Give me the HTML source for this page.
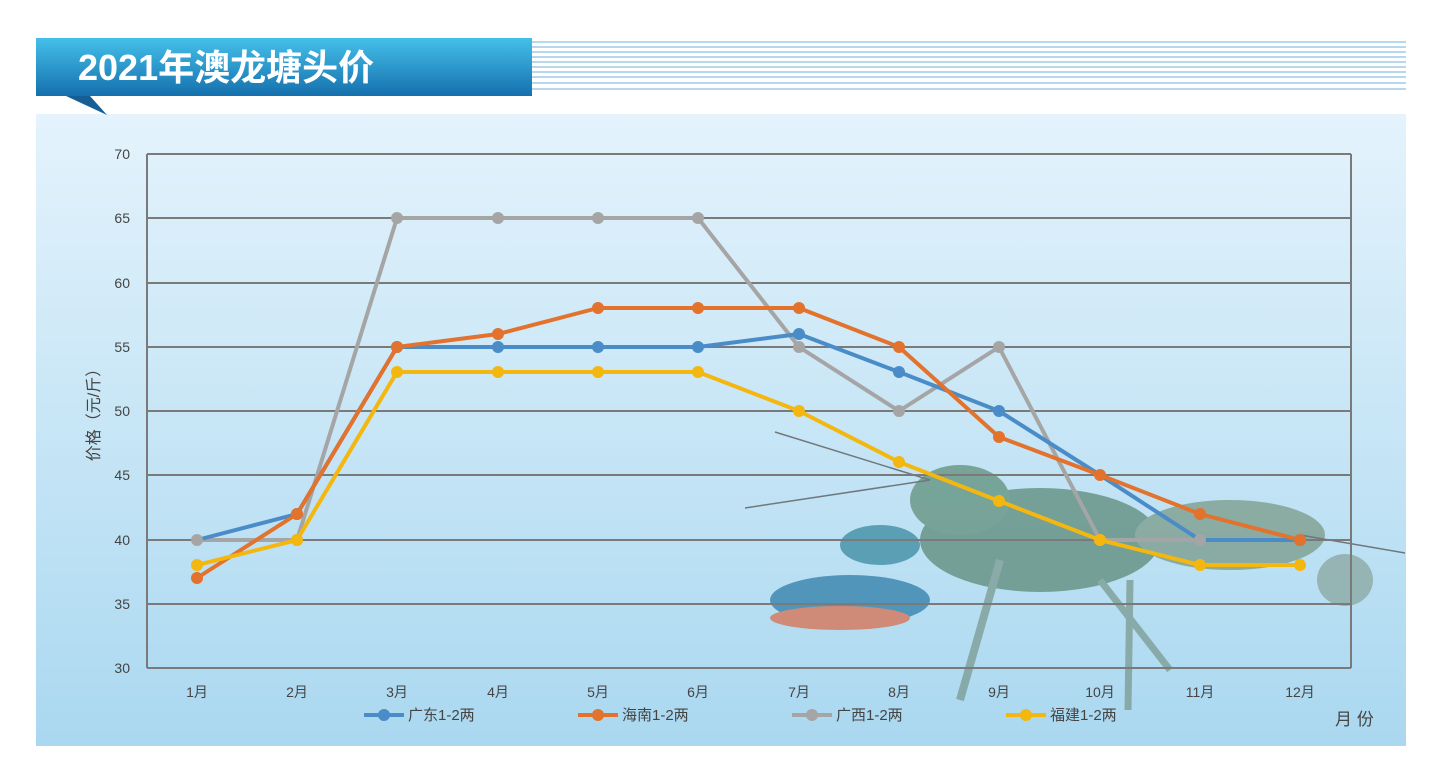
<!DOCTYPE html><html><head><meta charset="utf-8"><style>
body{margin:0;width:1442px;height:781px;background:#fff;overflow:hidden;font-family:"Liberation Sans","Noto Sans CJK SC",sans-serif}
</style></head><body>
<svg width="1442" height="781" xmlns="http://www.w3.org/2000/svg" style="position:absolute;left:0;top:0">
<defs>
<linearGradient id="bg" x1="0" y1="0" x2="0" y2="1"><stop offset="0" stop-color="#e4f3fc"/><stop offset="1" stop-color="#aad8f0"/></linearGradient>
<linearGradient id="hd" x1="0" y1="0" x2="0" y2="1"><stop offset="0" stop-color="#44c0ea"/><stop offset="1" stop-color="#1570ad"/></linearGradient>
</defs>
<rect x="36" y="114" width="1370" height="632" fill="url(#bg)"/>
<g stroke="#8cc0e0" stroke-width="1.3">
<line x1="532" y1="42" x2="1406" y2="42"/><line x1="532" y1="47" x2="1406" y2="47"/><line x1="532" y1="52" x2="1406" y2="52"/><line x1="532" y1="57" x2="1406" y2="57"/><line x1="532" y1="62" x2="1406" y2="62"/><line x1="532" y1="67" x2="1406" y2="67"/><line x1="532" y1="72" x2="1406" y2="72"/><line x1="532" y1="77" x2="1406" y2="77"/><line x1="532" y1="83" x2="1406" y2="83"/><line x1="532" y1="89" x2="1406" y2="89"/>
</g>
<rect x="36" y="38" width="496" height="58" fill="url(#hd)"/>
<polygon points="66,96 90,96 107,115" fill="#155f95"/>
<text x="78" y="80" font-size="36" font-weight="bold" fill="#fff">2021年澳龙塘头价</text>
<!-- crayfish approximation -->
<g opacity="0.75">
<ellipse cx="1040" cy="540" rx="120" ry="52" fill="#5c8a78"/>
<ellipse cx="1230" cy="535" rx="95" ry="35" fill="#7a9a88"/>
<ellipse cx="1345" cy="580" rx="28" ry="26" fill="#8aa6a0"/>
<ellipse cx="960" cy="500" rx="50" ry="35" fill="#5f8f7a"/>
<ellipse cx="850" cy="600" rx="80" ry="25" fill="#2f7ea8"/>
<ellipse cx="840" cy="618" rx="70" ry="12" fill="#d87050"/>
<ellipse cx="880" cy="545" rx="40" ry="20" fill="#3b8aa0"/>
<line x1="1000" y1="560" x2="960" y2="700" stroke="#7a9a90" stroke-width="8"/>
<line x1="1130" y1="580" x2="1128" y2="710" stroke="#7a9a90" stroke-width="7"/>
<line x1="1100" y1="580" x2="1170" y2="670" stroke="#7a9a90" stroke-width="7"/>
<line x1="930" y1="480" x2="775" y2="432" stroke="#555" stroke-width="1.5"/>
<line x1="930" y1="480" x2="745" y2="508" stroke="#555" stroke-width="1.5"/>
<line x1="1300" y1="535" x2="1405" y2="553" stroke="#555" stroke-width="1.5"/>
</g>
<g stroke="#7a7a7a" stroke-width="2" fill="none">
<line x1="147" y1="154" x2="1351" y2="154"/><line x1="147" y1="218" x2="1351" y2="218"/><line x1="147" y1="283" x2="1351" y2="283"/><line x1="147" y1="347" x2="1351" y2="347"/><line x1="147" y1="411" x2="1351" y2="411"/><line x1="147" y1="475" x2="1351" y2="475"/><line x1="147" y1="540" x2="1351" y2="540"/><line x1="147" y1="604" x2="1351" y2="604"/><line x1="147" y1="668" x2="1351" y2="668"/>
<line x1="147" y1="154" x2="147" y2="668"/><line x1="1351" y1="154" x2="1351" y2="668"/>
</g>
<g font-size="14" fill="#444" text-anchor="end">
<text x="130" y="159">70</text><text x="130" y="223">65</text><text x="130" y="288">60</text><text x="130" y="352">55</text><text x="130" y="416">50</text><text x="130" y="480">45</text><text x="130" y="545">40</text><text x="130" y="609">35</text><text x="130" y="673">30</text>
</g>
<g font-size="14" fill="#444" text-anchor="middle">
<text x="197" y="697">1月</text><text x="297" y="697">2月</text><text x="397" y="697">3月</text><text x="498" y="697">4月</text><text x="598" y="697">5月</text><text x="698" y="697">6月</text><text x="799" y="697">7月</text><text x="899" y="697">8月</text><text x="999" y="697">9月</text><text x="1100" y="697">10月</text><text x="1200" y="697">11月</text><text x="1300" y="697">12月</text>
</g>
<text transform="translate(99,411) rotate(-90)" font-size="16" fill="#444" text-anchor="middle">价格（元/斤）</text>
<text x="1335" y="725" font-size="17" fill="#444">月 份</text>
<g stroke-width="4" fill="none" stroke-linejoin="round">
<polyline stroke="#a5a5a5" points="197,540 297,540 397,218 498,218 598,218 698,218 799,347 899,411 999,347 1100,540 1200,540"/>
<polyline stroke="#4a8cc8" points="197,540 297,514 397,347 498,347 598,347 698,347 799,334 899,372 999,411 1100,475 1200,540 1300,540"/>
<polyline stroke="#e2722c" points="197,578 297,514 397,347 498,334 598,308 698,308 799,308 899,347 999,437 1100,475 1200,514 1300,540"/>
<polyline stroke="#f4b710" points="197,565 297,540 397,372 498,372 598,372 698,372 799,411 899,462 999,501 1100,540 1200,565 1300,565"/>
</g>
<g fill="#a5a5a5"><circle cx="197" cy="540" r="6"/><circle cx="297" cy="540" r="6"/><circle cx="397" cy="218" r="6"/><circle cx="498" cy="218" r="6"/><circle cx="598" cy="218" r="6"/><circle cx="698" cy="218" r="6"/><circle cx="799" cy="347" r="6"/><circle cx="899" cy="411" r="6"/><circle cx="999" cy="347" r="6"/><circle cx="1100" cy="540" r="6"/><circle cx="1200" cy="540" r="6"/></g>
<g fill="#4a8cc8"><circle cx="297" cy="514" r="6"/><circle cx="397" cy="347" r="6"/><circle cx="498" cy="347" r="6"/><circle cx="598" cy="347" r="6"/><circle cx="698" cy="347" r="6"/><circle cx="799" cy="334" r="6"/><circle cx="899" cy="372" r="6"/><circle cx="999" cy="411" r="6"/><circle cx="1300" cy="540" r="6"/></g>
<g fill="#e2722c"><circle cx="197" cy="578" r="6"/><circle cx="297" cy="514" r="6"/><circle cx="397" cy="347" r="6"/><circle cx="498" cy="334" r="6"/><circle cx="598" cy="308" r="6"/><circle cx="698" cy="308" r="6"/><circle cx="799" cy="308" r="6"/><circle cx="899" cy="347" r="6"/><circle cx="999" cy="437" r="6"/><circle cx="1100" cy="475" r="6"/><circle cx="1200" cy="514" r="6"/><circle cx="1300" cy="540" r="6"/></g>
<g fill="#f4b710"><circle cx="197" cy="565" r="6"/><circle cx="297" cy="540" r="6"/><circle cx="397" cy="372" r="6"/><circle cx="498" cy="372" r="6"/><circle cx="598" cy="372" r="6"/><circle cx="698" cy="372" r="6"/><circle cx="799" cy="411" r="6"/><circle cx="899" cy="462" r="6"/><circle cx="999" cy="501" r="6"/><circle cx="1100" cy="540" r="6"/><circle cx="1200" cy="565" r="6"/><circle cx="1300" cy="565" r="6"/></g>
<g stroke-width="4"><line x1="364" y1="715" x2="404" y2="715" stroke="#4a8cc8"/><line x1="578" y1="715" x2="618" y2="715" stroke="#e2722c"/><line x1="792" y1="715" x2="832" y2="715" stroke="#a5a5a5"/><line x1="1006" y1="715" x2="1046" y2="715" stroke="#f4b710"/></g>
<circle cx="384" cy="715" r="6" fill="#4a8cc8"/><circle cx="598" cy="715" r="6" fill="#e2722c"/><circle cx="812" cy="715" r="6" fill="#a5a5a5"/><circle cx="1026" cy="715" r="6" fill="#f4b710"/>
<g font-size="15" fill="#444"><text x="408" y="720">广东1-2两</text><text x="622" y="720">海南1-2两</text><text x="836" y="720">广西1-2两</text><text x="1050" y="720">福建1-2两</text></g>
</svg>
</body></html>
